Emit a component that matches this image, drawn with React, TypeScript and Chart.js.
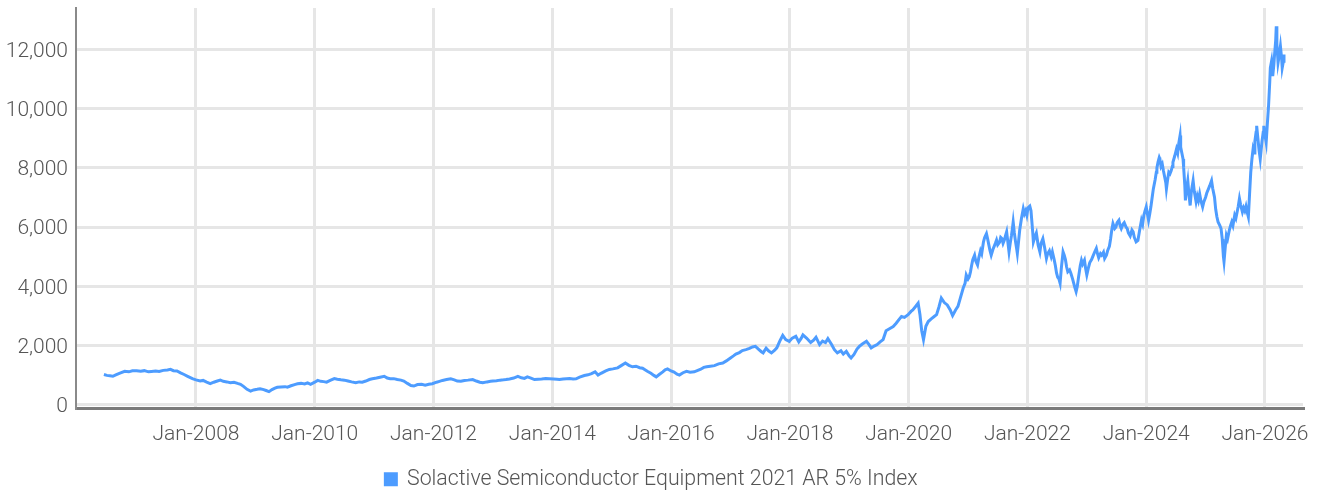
import React, { useEffect, useRef } from "react";
import { Chart, registerables } from "chart.js";

Chart.register(...registerables);

const seriesName = "Solactive Semiconductor Equipment 2021 AR 5% Index";

// decimal-year dates and index values, by period
const datesA = [2006.45,2006.5,2006.55,2006.6,2006.65,2006.72,2006.8,2006.87,2006.93,2007.0,2007.07,2007.13,2007.2,2007.25,2007.32,2007.38,2007.45,2007.52,2007.57,2007.62,2007.68,2007.74,2007.8,2007.86,2007.94,2008.0,2008.07,2008.12,2008.18,2008.24,2008.3,2008.36,2008.41,2008.46,2008.52,2008.58,2008.64,2008.7,2008.75,2008.8,2008.86,2008.92,2008.97,2009.03,2009.08,2009.14,2009.18,2009.23,2009.28,2009.33,2009.37,2009.43,2009.5,2009.54,2009.6,2009.66,2009.71,2009.77,2009.83,2009.88,2009.93,2010.0,2010.05,2010.1,2010.15,2010.2,2010.26,2010.33,2010.38,2010.44,2010.5,2010.56,2010.62,2010.69,2010.75,2010.8,2010.86,2010.92,2010.97,2011.04,2011.1,2011.17,2011.22,2011.27,2011.33,2011.39,2011.45,2011.5];
const valuesA = [1020,990,975,960,1010,1070,1130,1110,1145,1150,1130,1150,1110,1125,1140,1120,1160,1175,1195,1150,1140,1075,1020,960,880,840,800,820,760,710,760,800,830,790,770,740,760,720,690,620,520,460,500,520,540,510,480,440,510,560,590,600,610,590,640,680,705,720,700,740,690,760,820,790,780,760,820,880,860,840,830,800,770,740,770,760,800,850,875,900,930,960,900,875,880,850,830,800];

const datesB = [2011.56,2011.62,2011.67,2011.73,2011.8,2011.86,2011.92,2011.98,2012.05,2012.1,2012.15,2012.22,2012.29,2012.35,2012.4,2012.46,2012.52,2012.58,2012.66,2012.72,2012.78,2012.83,2012.9,2012.96,2013.0,2013.06,2013.12,2013.18,2013.22,2013.28,2013.35,2013.42,2013.48,2013.53,2013.58,2013.64,2013.7,2013.76,2013.82,2013.89,2013.95,2014.02,2014.08,2014.12,2014.18,2014.24,2014.29,2014.35,2014.4,2014.46,2014.54,2014.6,2014.66,2014.72,2014.77,2014.82,2014.9,2014.96,2015.02,2015.1,2015.16,2015.23,2015.29,2015.35,2015.41,2015.47,2015.52,2015.56,2015.6,2015.66,2015.71,2015.75,2015.8,2015.86,2015.9,2015.94,2016.0,2016.05,2016.1,2016.14,2016.2,2016.26,2016.32,2016.39,2016.45,2016.5];
const valuesB = [720,650,630,680,690,660,690,710,760,790,820,850,875,840,800,790,820,830,850,800,760,740,770,790,800,810,830,840,850,870,900,960,910,890,940,900,850,860,870,885,880,870,860,850,870,880,885,870,875,930,985,1010,1050,1110,1000,1060,1140,1190,1210,1245,1320,1410,1330,1280,1300,1250,1230,1180,1130,1060,990,940,1020,1110,1180,1210,1140,1100,1030,1000,1080,1130,1100,1110,1160,1200];

const datesC = [2016.55,2016.6,2016.66,2016.73,2016.8,2016.87,2016.93,2017.0,2017.05,2017.09,2017.15,2017.2,2017.26,2017.32,2017.37,2017.42,2017.47,2017.52,2017.55,2017.6,2017.64,2017.69,2017.74,2017.78,2017.83,2017.88,2017.93,2017.99,2018.04,2018.1,2018.15,2018.19,2018.22,2018.28,2018.35,2018.4,2018.44,2018.5,2018.55,2018.6,2018.64,2018.7,2018.75,2018.8,2018.86,2018.9,2018.95,2019.0,2019.03,2019.08,2019.13,2019.17,2019.22,2019.29,2019.33,2019.37,2019.42,2019.47,2019.52,2019.57,2019.62,2019.67,2019.74,2019.79,2019.84,2019.88,2019.93,2019.99,2020.04,2020.07,2020.11,2020.16,2020.19,2020.22,2020.25,2020.29,2020.33,2020.38,2020.43,2020.47,2020.51,2020.55,2020.6,2020.65,2020.7,2020.74,2020.79,2020.83,2020.87,2020.92];
const valuesC = [1260,1280,1300,1320,1380,1410,1480,1580,1650,1710,1760,1830,1860,1900,1950,1970,1880,1790,1750,1910,1820,1750,1830,1920,2150,2340,2200,2140,2250,2310,2120,2240,2360,2250,2100,2180,2280,2030,2150,2100,2230,2040,1860,1750,1820,1710,1800,1640,1580,1700,1880,1970,2050,2140,2040,1920,1980,2030,2120,2200,2500,2560,2640,2750,2880,2980,2950,3040,3150,3200,3300,3430,3050,2500,2200,2650,2810,2900,2980,3040,3300,3600,3450,3370,3200,3010,3200,3320,3600,3950];

const datesD = [2020.95,2020.97,2021.0,2021.02,2021.04,2021.06,2021.08,2021.11,2021.13,2021.16,2021.18,2021.21,2021.23,2021.26,2021.28,2021.31,2021.33,2021.35,2021.37,2021.39,2021.42,2021.44,2021.46,2021.48,2021.5,2021.53,2021.55,2021.57,2021.59,2021.61,2021.63,2021.65,2021.67,2021.69,2021.71,2021.73,2021.75,2021.76,2021.78,2021.8,2021.82,2021.83,2021.85,2021.87,2021.9,2021.93,2021.95,2021.97,2021.99,2022.01,2022.04,2022.06,2022.07,2022.09,2022.1,2022.13,2022.15,2022.18,2022.21,2022.23,2022.26,2022.29,2022.32,2022.34,2022.37,2022.4,2022.42,2022.45,2022.47,2022.49,2022.51,2022.53,2022.55,2022.57,2022.6,2022.62,2022.64,2022.66,2022.68,2022.71,2022.73,2022.76,2022.78,2022.8,2022.82,2022.84,2022.86,2022.89,2022.91,2022.93,2022.96,2022.98,2023.0,2023.03,2023.05,2023.08,2023.1,2023.13,2023.16,2023.18,2023.2,2023.23,2023.25,2023.28,2023.3,2023.33,2023.35,2023.38,2023.4,2023.42,2023.44,2023.47,2023.49,2023.51,2023.54,2023.56,2023.58,2023.61,2023.63,2023.66,2023.68,2023.7,2023.73,2023.76,2023.78,2023.8,2023.83,2023.86,2023.89,2023.92,2023.94,2023.96,2023.98,2024.0,2024.02,2024.04,2024.06,2024.08,2024.1,2024.12,2024.15,2024.17,2024.18,2024.2,2024.22,2024.23,2024.25,2024.27,2024.29,2024.31,2024.33,2024.34,2024.36,2024.38,2024.4,2024.42,2024.44,2024.45,2024.48,2024.51,2024.53,2024.55,2024.57,2024.58,2024.6,2024.62,2024.63,2024.65,2024.66,2024.68,2024.7,2024.72,2024.74,2024.76,2024.79,2024.81,2024.84,2024.86,2024.88,2024.9,2024.92,2024.95,2024.97,2025.0,2025.02,2025.05,2025.07,2025.1,2025.12,2025.15,2025.17,2025.19,2025.21,2025.24,2025.26,2025.28,2025.29,2025.3,2025.31,2025.33,2025.35,2025.37,2025.4,2025.42,2025.44,2025.46,2025.49,2025.51,2025.53,2025.55,2025.57,2025.59,2025.62,2025.64,2025.66,2025.68,2025.7,2025.72,2025.74,2025.76,2025.78,2025.8,2025.82,2025.83,2025.85,2025.86,2025.88,2025.9,2025.92,2025.94,2025.95,2025.97,2025.98,2026.0,2026.02,2026.04,2026.06,2026.08,2026.09,2026.11,2026.13,2026.15,2026.16,2026.18,2026.19,2026.2,2026.22,2026.24,2026.26,2026.28,2026.29,2026.31,2026.32];
const valuesD = [4100,4380,4250,4320,4480,4700,4900,5050,4850,4720,4950,5200,5100,5500,5650,5780,5600,5400,5200,5050,5250,5350,5450,5560,5400,5480,5650,5610,5450,5550,5700,5840,5500,5160,5450,5700,6000,6170,5800,5500,5250,5110,5500,5900,6300,6620,6450,6550,6400,6650,6710,6550,6300,5800,5500,5700,5800,5400,5160,5450,5610,5300,4940,5100,5200,5000,5160,4900,4700,4450,4300,4250,4100,4600,5160,5050,4900,4650,4490,4550,4450,4250,4100,3950,3820,4000,4300,4700,4880,4750,4880,4600,4380,4650,4800,4900,5000,5150,5280,5100,4960,5100,5050,5150,4940,5050,5200,5350,5600,5900,6120,5950,6000,6150,6230,6050,5950,6100,6150,6000,5950,5800,5700,5900,5840,5650,5500,5550,5900,6230,6100,6400,6550,6680,6450,6230,6450,6700,7000,7290,7600,7850,8000,8200,8350,8300,8050,8130,7900,7700,7500,7290,7600,7850,7800,7900,8050,8190,8400,8640,8500,8850,9090,8700,8500,8300,8020,7400,6900,7300,7570,7100,6730,7200,7570,7200,6850,7050,6900,7120,6900,6680,6850,7010,7150,7300,7400,7570,7300,7010,6600,6350,6170,6050,5950,5600,5300,5000,4830,5300,5720,5600,5900,6050,6170,6050,6400,6300,6500,6700,6960,6750,6510,6650,6550,6700,6500,6340,7100,7850,8300,8640,8500,8900,9200,9420,9000,8600,8300,8700,8900,9200,9420,9100,8860,9500,10090,10900,11380,11600,11100,11500,11800,12300,12780,12200,11550,11800,12110,11700,11380,11600,11830];

const xTickYears = [2008, 2010, 2012, 2014, 2016, 2018, 2020, 2022, 2024, 2026];
const yTickValues = [0, 2000, 4000, 6000, 8000, 10000, 12000];

const FONT = 'Roboto, "Noto Sans", sans-serif';
const BLUE = "#4d9cff";

export default function App() {
  const ref = useRef<HTMLCanvasElement | null>(null);

  useEffect(() => {
    document.body.style.margin = "0";
    const dates = [...datesA, ...datesB, ...datesC, ...datesD];
    const values = [...valuesA, ...valuesB, ...valuesC, ...valuesD];
    const points = dates.map((d, i) => ({ x: d, y: values[i] }));

    const legendShift = {
      id: "legendShift",
      afterLayout(chart: any) {
        if (chart.legend) {
          chart.legend.top += 7;
          chart.legend.bottom += 7;
        }
      },
    };

    const chart = new Chart(ref.current as HTMLCanvasElement, {
      type: "line",
      data: {
        datasets: [
          {
            label: seriesName,
            data: points,
            borderColor: BLUE,
            backgroundColor: BLUE,
            borderWidth: 3,
            pointRadius: 0,
            tension: 0,
          },
        ],
      },
      options: {
        animation: false,
        responsive: true,
        maintainAspectRatio: false,
        layout: { padding: { left: 0, right: 18, top: 8, bottom: 0 } },
        plugins: {
          legend: {
            position: "bottom",
            labels: {
              boxWidth: 11,
              boxHeight: 11,
              padding: 10,
              color: "#555",
              font: { family: FONT, size: 21.3, weight: "300" },
            },
          },
          tooltip: { enabled: false },
        },
        scales: {
          x: {
            type: "linear",
            min: 2005.98,
            max: 2026.64,
            afterBuildTicks: (s: any) => {
              s.ticks = xTickYears.map((v) => ({ value: v }));
            },
            afterFit: (s: any) => {
              s.height = 43;
              s.paddingLeft = 0;
              s.paddingRight = 0;
            },
            ticks: {
              color: "#555",
              font: { family: FONT, size: 21, weight: "300" },
              padding: 13,
              maxRotation: 0,
              autoSkip: false,
              callback: (v: any) => "Jan-" + v,
            },
            grid: { color: "#e6e6e6", lineWidth: 3, drawTicks: false },
            border: { display: true, color: "#7a7a7a", width: 3 },
          },
          y: {
            type: "linear",
            min: -135,
            max: 13400,
            afterBuildTicks: (s: any) => {
              s.ticks = yTickValues.map((v) => ({ value: v }));
            },
            afterFit: (s: any) => {
              s.width = 76;
              s.paddingTop = 0;
              s.paddingBottom = 0;
            },
            ticks: {
              color: "#555",
              font: { family: FONT, size: 21, weight: "300" },
              padding: 8,
              labelOffset: 2,
              callback: (v: any) => Number(v).toLocaleString("en-US"),
            },
            grid: { color: "#e6e6e6", lineWidth: 3, drawTicks: false },
            border: { display: true, color: "#8a8a8a", width: 2 },
          },
        },
      },
      plugins: [legendShift],
    });
    return () => chart.destroy();
  }, []);

  return (
    <div style={{ width: 1321, height: 493, position: "relative" }}>
      <canvas ref={ref} />
    </div>
  );
}
